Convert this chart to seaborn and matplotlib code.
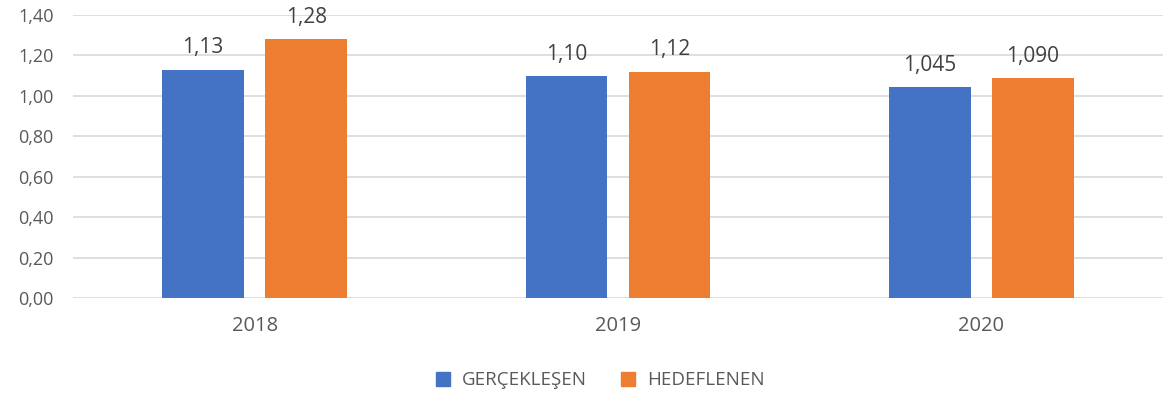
import pandas as pd
import seaborn as sns
import matplotlib.pyplot as plt
from matplotlib.ticker import FuncFormatter
from matplotlib.lines import Line2D

# data
years = ["2018", "2019", "2020"]
gerceklesen = [1.13, 1.10, 1.045]
hedeflenen = [1.28, 1.12, 1.090]
gerceklesen_labels = ["1,13", "1,10", "1,045"]
hedeflenen_labels = ["1,28", "1,12", "1,090"]
series_names = ["GERÇEKLEŞEN", "HEDEFLENEN"]
colors = ["#4472C4", "#ED7D31"]

df = pd.DataFrame({
    "Yil": years * 2,
    "Deger": gerceklesen + hedeflenen,
    "Seri": [series_names[0]] * 3 + [series_names[1]] * 3,
})

sns.set_theme(style="white")
plt.rcParams["font.family"] = ["Open Sans", "DejaVu Sans"]

fig = plt.figure(figsize=(11.66, 4.01), dpi=100)
ax = fig.add_axes([0.0626, 0.2569, 0.9348, 0.7057])

sns.barplot(data=df, x="Yil", y="Deger", hue="Seri", palette=colors,
            width=0.567, gap=0.208, legend=False, ax=ax, saturation=1,
            linewidth=0)

ax.set_ylim(0, 1.4)
ax.set_xlim(-0.5, 2.5)
ax.set_yticks([i * 0.2 for i in range(8)])
ax.yaxis.set_major_formatter(FuncFormatter(lambda v, p: f"{v:.2f}".replace(".", ",")))
ax.grid(axis="y", color="#D9D9D9", linewidth=1.2)
ax.set_axisbelow(True)
for s in ax.spines.values():
    s.set_visible(False)
ax.set_xlabel("")
ax.set_ylabel("")
ax.tick_params(axis="y", length=0, pad=14, labelsize=13, labelcolor="#595959")
ax.tick_params(axis="x", length=0, pad=13, labelsize=14.5, labelcolor="#595959")

ax.bar_label(ax.containers[0], labels=gerceklesen_labels, padding=8,
             fontsize=15, color="#404040")
ax.bar_label(ax.containers[1], labels=hedeflenen_labels, padding=8,
             fontsize=15, color="#404040")

handles = [Line2D([0], [0], marker="s", linestyle="", markersize=9.5,
                  markerfacecolor=c, markeredgecolor=c) for c in colors]
fig.legend(handles, series_names, loc="center", bbox_to_anchor=(0.51, 0.052),
           ncol=2, frameon=False, fontsize=13.5, labelcolor="#595959",
           handletextpad=0.0, columnspacing=1.2)

fig.savefig("out.png", dpi=100)
